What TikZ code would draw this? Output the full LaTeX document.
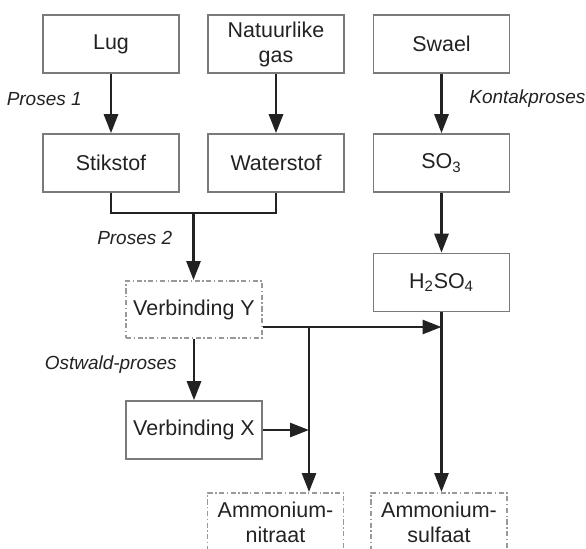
\documentclass[tikz,border=0pt]{standalone}
\usepackage{fontspec}
\setmainfont{Liberation Sans}
\usepackage{tikz}
\usetikzlibrary{arrows.meta,calc}

\definecolor{ink}{HTML}{222222}
\definecolor{frame}{HTML}{7A7A7A}
\definecolor{dframe}{HTML}{999999}

\begin{document}
\begin{tikzpicture}[
    box/.style={draw=frame,line width=0.9pt,minimum height=1.16cm,minimum width=2.72cm,align=center,text=ink,font=\fontsize{12.2}{14.2}\selectfont},
    dbox/.style={box,draw=dframe,line width=1.1pt,dash pattern=on 3pt off 1.4pt on 0.8pt off 1.4pt},
    lbl/.style={text=ink,font=\fontsize{10.8}{13}\selectfont\itshape,inner sep=0pt},
    flow/.style={draw=ink,line width=1.6pt},
    >={Triangle[length=0.38cm,width=0.28cm]},
]
    \path[use as bounding box,clip] (0,0) rectangle (11.72,-10.96);

    \node[box] (lug) at (2.22,-0.88) {Lug};
    \node[box] (gas) at (5.52,-0.88) {Natuurlike\\gas};
    \node[box] (swael) at (8.83,-0.88) {Swael};
    \node[box] (stik) at (2.22,-3.26) {Stikstof};
    \node[box] (water) at (5.52,-3.26) {Waterstof};
    \node[box] (so3) at (8.83,-3.26) {SO\textsubscript{3}};
    \node[box] (h2so4) at (8.83,-5.65) {H\textsubscript{2}SO\textsubscript{4}};
    \node[dbox,minimum height=1.14cm] (verbY) at (3.88,-6.19) {Verbinding Y};
    \node[box] (verbX) at (3.88,-8.60) {Verbinding X};
    \node[dbox] (nitraat) at (5.51,-10.44) {Ammonium-\\nitraat};
    \node[dbox] (sulfaat) at (8.78,-10.44) {Ammonium-\\sulfaat};

    \node[lbl,anchor=east] (p1) at (1.64,-1.98) {Proses 1};
    \node[lbl,anchor=west] (kp) at (9.38,-1.98) {Kontakproses};
    \node[lbl,anchor=east] (p2) at (3.45,-4.76) {Proses 2};
    \node[lbl,anchor=east] (op) at (3.54,-7.30) {Ostwald-proses};

    \coordinate (join) at (3.87,-4.26);
    \coordinate (ybr) at (6.18,-6.54);

    \draw[flow,->] (lug) -- (stik);
    \draw[flow,->] (gas) -- (water);
    \draw[flow,->] (swael) -- (so3);
    \draw[flow,->] (so3) -- (h2so4);
    \draw[flow] (stik.south) |- (join) -| (water.south);
    \draw[flow,->] (join) -- (join |- verbY.north);
    \draw[flow,->] (verbY) -- (verbX);
    \draw[flow,->] (verbY.east |- ybr) -- (h2so4.south |- ybr);
    \draw[flow,->] (h2so4) -- (h2so4 |- sulfaat.north);
    \draw[flow,->] (ybr) -- (ybr |- nitraat.north);
    \draw[flow,->] (verbX) -- (verbX -| ybr);
\end{tikzpicture}
\end{document}
